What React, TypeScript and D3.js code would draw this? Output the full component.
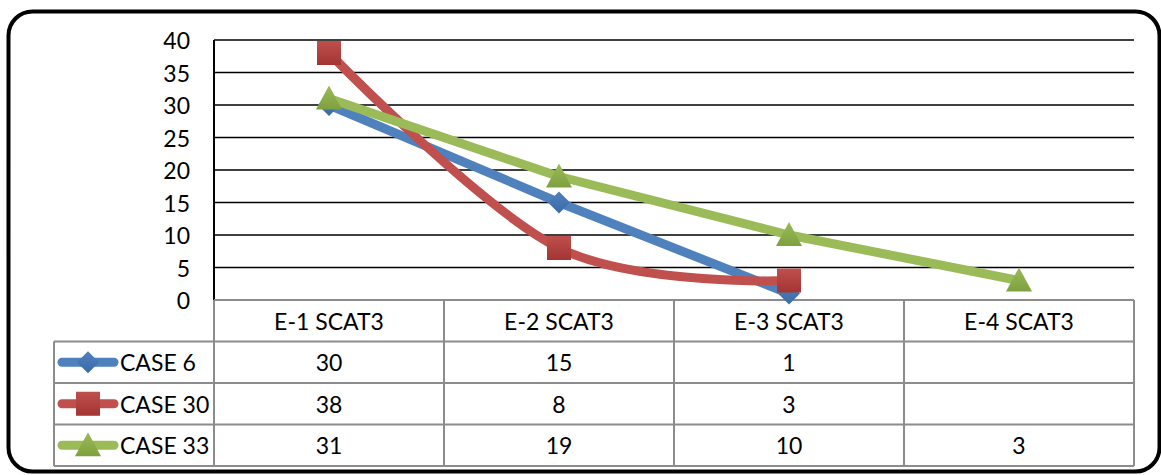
import * as d3 from 'd3';

const categories = ['E-1 SCAT3', 'E-2 SCAT3', 'E-3 SCAT3', 'E-4 SCAT3'];
const seriesNames = ['CASE 6', 'CASE 30', 'CASE 33'];
const case6 = [30, 15, 1, null];
const case30 = [38, 8, 3, null];
const case33 = [31, 19, 10, 3];
const yTicks = [0, 5, 10, 15, 20, 25, 30, 35, 40];

const series = [
  { name: seriesNames[0], values: case6, color: '#4F81BD', dark: '#3A6AA8', marker: 'diamond', smooth: false },
  { name: seriesNames[1], values: case30, color: '#C0504D', dark: '#A23431', marker: 'square', smooth: true },
  { name: seriesNames[2], values: case33, color: '#9BBB59', dark: '#7FA03E', marker: 'triangle', smooth: false },
];

const W = 1161;
const H = 475;
const plot = { left: 214, right: 1134, top: 40, bottom: 300 };
const rowH = 41.5;
const legendLeft = 54;
const font = 'Lato, "Open Sans", sans-serif';
const fontSize = 23;

function Marker({ type, x, y, id }: { type: string; x: number; y: number; id: string }) {
  const grad = `url(#${id})`;
  if (type === 'diamond') {
    const r = 11;
    return <path d={`M${x},${y - r}L${x + r},${y}L${x},${y + r}L${x - r},${y}Z`} fill={grad} />;
  }
  if (type === 'square') {
    const s = 12;
    return <rect x={x - s} y={y - s} width={s * 2} height={s * 2} fill={grad} />;
  }
  const r = 13;
  return <path d={`M${x},${y - r}L${x + r},${y + r - 2}L${x - r},${y + r - 2}Z`} fill={grad} />;
}

export default function App() {
  const x = d3.scaleBand<string>().domain(categories).range([plot.left, plot.right]);
  const cx = (c: string) => (x(c) as number) + x.bandwidth() / 2;
  const y = d3.scaleLinear().domain([0, 40]).range([plot.bottom, plot.top]);

  const tableTop = plot.bottom;
  const rowsTop = tableTop + rowH;
  const tableBottom = rowsTop + rowH * 3;

  return (
    <svg width={W} height={H} style={{ position: 'absolute', left: 0, top: 0, background: '#fff' }}>
      <defs>
        {series.map((s, i) => (
          <linearGradient key={i} id={`mk${i}`} x1="0" x2="0" y1="0" y2="1">
            <stop offset="0%" stopColor={s.color} />
            <stop offset="100%" stopColor={s.dark} />
          </linearGradient>
        ))}
      </defs>
      <rect x={8.5} y={11.5} width={1151} height={460} rx={24} fill="#fff" stroke="#000" strokeWidth={4} />

      {/* gridlines */}
      {yTicks.filter(t => t > 0).map(t => (
        <line key={t} x1={plot.left} x2={plot.right} y1={y(t)} y2={y(t)} stroke="#000" strokeWidth={1.5} />
      ))}
      <line x1={plot.left} x2={plot.left} y1={plot.top} y2={plot.bottom} stroke="#000" strokeWidth={2} />
      {yTicks.map(t => (
        <text key={t} x={190} y={y(t)} textAnchor="end" dominantBaseline="central" fontFamily={font} fontSize={fontSize}>
          {t}
        </text>
      ))}

      {/* data table */}
      <g stroke="#8C8C8C" strokeWidth={2}>
        <line x1={plot.left} x2={plot.right} y1={tableTop} y2={tableTop} />
        {[0, 1, 2, 3].map(i => (
          <line key={i} x1={legendLeft} x2={plot.right} y1={rowsTop + i * rowH} y2={rowsTop + i * rowH} />
        ))}
        <line x1={legendLeft} x2={legendLeft} y1={rowsTop} y2={tableBottom} />
        {categories.map(c => (
          <line key={c} x1={x(c)} x2={x(c)} y1={tableTop} y2={tableBottom} />
        ))}
        <line x1={plot.right} x2={plot.right} y1={tableTop} y2={tableBottom} />
      </g>
      {categories.map(c => (
        <text key={c} x={cx(c)} y={tableTop + rowH / 2} textAnchor="middle" dominantBaseline="central" fontFamily={font} fontSize={fontSize}>
          {c}
        </text>
      ))}
      {series.map((s, i) => (
        <g key={s.name}>
          <line x1={62} x2={114} y1={rowsTop + rowH * (i + 0.5)} y2={rowsTop + rowH * (i + 0.5)} stroke={s.color} strokeWidth={9} strokeLinecap="round" />
          <Marker type={s.marker} x={88} y={rowsTop + rowH * (i + 0.5)} id={`mk${i}`} />
          <text x={120} y={rowsTop + rowH * (i + 0.5)} dominantBaseline="central" fontFamily={font} fontSize={fontSize}>
            {s.name}
          </text>
          {categories.map((c, j) =>
            s.values[j] == null ? null : (
              <text key={c} x={cx(c)} y={rowsTop + rowH * (i + 0.5)} textAnchor="middle" dominantBaseline="central" fontFamily={font} fontSize={fontSize}>
                {s.values[j]}
              </text>
            )
          )}
        </g>
      ))}

      {/* series lines */}
      {series.map((s, i) => {
        const pts = categories
          .map((c, j) => ({ c, v: s.values[j] }))
          .filter(d => d.v != null) as { c: string; v: number }[];
        const line = d3.line<{ c: string; v: number }>()
          .x(d => cx(d.c))
          .y(d => y(d.v))
          .curve(s.smooth ? d3.curveCardinal.tension(0) : d3.curveLinear);
        return (
          <g key={s.name}>
            <path d={line(pts) || ''} fill="none" stroke={s.color} strokeWidth={9} strokeLinejoin="round" strokeLinecap="round" />
            {pts.map(d => (
              <Marker key={d.c} type={s.marker} x={cx(d.c)} y={y(d.v)} id={`mk${i}`} />
            ))}
          </g>
        );
      })}
    </svg>
  );
}
